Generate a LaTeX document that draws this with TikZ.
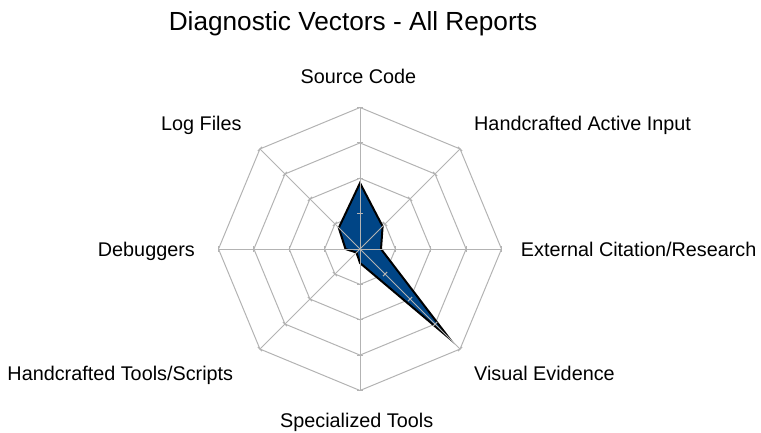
\documentclass[tikz,border=0pt]{standalone}
\usepackage{fontspec}
\setmainfont{Liberation Sans}
\definecolor{gridgray}{HTML}{B3B3B3}
\definecolor{seriesblue}{HTML}{004586}
\tikzset{
  axislabel/.style={inner sep=0pt, font=\fontsize{19.8bp}{23bp}\selectfont},
  gridline/.style={gridgray, line width=1bp},
}
\begin{document}
\begin{tikzpicture}[x=1bp,y=1bp]
		\useasboundingbox (-360,-183) rectangle (401,249);
		% rings
		\foreach \r in {35.4,70.8,106.1,141.5}
			\draw[gridline] (90:\r) -- (45:\r) -- (0:\r) -- (-45:\r) -- (-90:\r) -- (-135:\r) -- (180:\r) -- (135:\r) -- cycle;
		% series
		\draw[fill=seriesblue, line width=2bp] (90:66) -- (45:32) -- (0:21) -- (-45:126) -- (-90:14) -- (-135:5) -- (180:14.5) -- (135:30) -- cycle;
		% spokes and ticks
		\foreach \a in {0,45,...,315} {
			\draw[gridline, rotate=\a] (0,0) -- (141.5,0);
			\foreach \r in {35.4,70.8,106.1,141.5}
				\draw[gridline, rotate=\a] (\r,-3) -- (\r,3);
		}
		\node[anchor=base, inner sep=0pt, font=\fontsize{26.2bp}{30bp}\selectfont] (title) at (-7,218.3) {Diagnostic Vectors - All Reports};
		\node[axislabel, anchor=base] (srccode) at (-1.5,165.7) {Source Code};
		\node[axislabel, anchor=base west] (activein) at (114,118.3) {Handcrafted Active Input};
		\node[axislabel, anchor=base west] (citation) at (160.7,-7) {External Citation/Research};
		\node[axislabel, anchor=base west] (visual) at (114,-131) {Visual Evidence};
		\node[axislabel, anchor=base] (spectools) at (-3.3,-178.3) {Specialized Tools};
		\node[axislabel, anchor=base east] (scripts) at (-126.7,-131.7) {Handcrafted Tools/Scripts};
		\node[axislabel, anchor=base east] (debuggers) at (-165,-7) {Debuggers};
		\node[axislabel, anchor=base east] (logfiles) at (-118.3,118.3) {Log Files};
	\end{tikzpicture}
\end{document}
